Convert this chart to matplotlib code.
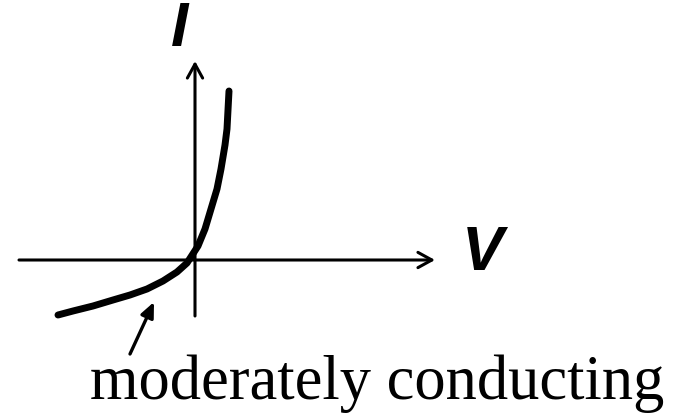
import matplotlib
matplotlib.use("Agg")
import matplotlib.pyplot as plt

# I-V curve (V right, I up; origin at the axis crossing)
v_vals = [-137, -122, -102, -82, -65, -48, -32, -18, -8, 3, 10, 16, 22, 26, 30, 32, 33, 34]
i_vals = [-55, -51, -46, -40, -35, -29, -21, -12, -3, 14, 31, 51, 71, 91, 115, 131, 150, 169]

x_label = "V"
y_label = "I"
note = "moderately conducting"

fig = plt.figure(figsize=(6.87, 4.15), dpi=100)
ax = fig.add_axes([0, 0, 1, 1])
ax.set_xlim(-195, 492)
ax.set_ylim(-155, 260)
ax.axis("off")

# axes with arrow heads
axis_arrow = dict(arrowstyle="->,head_length=1.0,head_width=0.55", lw=2.2, color="black",
                  shrinkA=0, shrinkB=0)
ax.annotate("", xy=(240, 0), xytext=(-176, 0), arrowprops=axis_arrow)
ax.annotate("", xy=(0, 199), xytext=(0, -56), arrowprops=axis_arrow)

# curve
ax.plot(v_vals, i_vals, color="black", lw=5, solid_capstyle="round", solid_joinstyle="round")

# axis labels
ax.text(288, 6, x_label, fontsize=45, fontweight="bold", fontstyle="italic",
        family="Liberation Sans", ha="center", va="center")
ax.text(-15, 230, y_label, fontsize=45, fontweight="bold", fontstyle="italic",
        family="Liberation Sans", ha="center", va="center")

# pointer to the curve
ax.annotate("", xy=(-41, -42), xytext=(-65, -94),
            arrowprops=dict(arrowstyle="-|>,head_length=0.9,head_width=0.4", lw=2.4,
                            color="black", shrinkA=0, shrinkB=0))

ax.text(182, -139, note, fontsize=45, family="Liberation Serif", ha="center", va="baseline")

fig.savefig("out.png", dpi=100)
